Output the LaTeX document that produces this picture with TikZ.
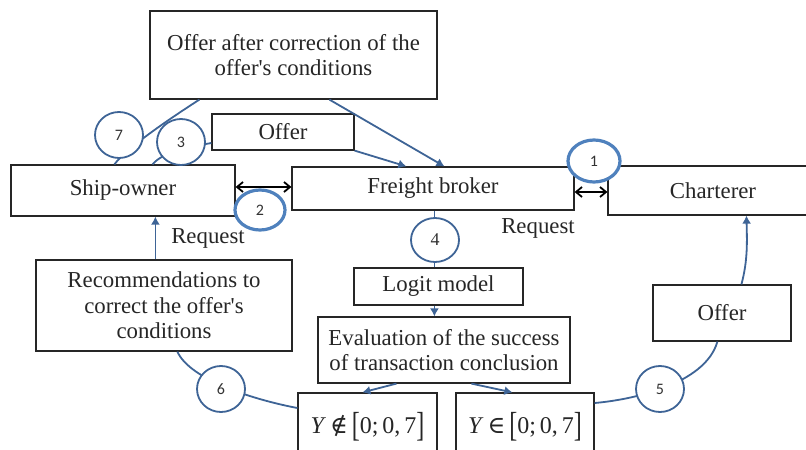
\documentclass[tikz,border=0pt]{standalone}
\usepackage{fontspec}
\setmainfont{Liberation Serif}[Ligatures=TeXOff]
\newfontfamily\numfont{Carlito}
\newfontfamily\symfont{DejaVu Serif}
\usetikzlibrary{arrows.meta,shapes.geometric,calc}
\definecolor{lnblue}{RGB}{62,100,150}
\definecolor{ltblue}{RGB}{79,129,189}
\newcommand{\bigbr}[1]{\raisebox{-1.5pt}{\scalebox{1}[1.45]{#1}}}
\begin{document}
\begin{tikzpicture}[x=0.5pt,y=-0.5pt,
 box/.style={draw=black!85, line width=0.6pt, fill=white, align=center, inner sep=1pt,
   font=\fontsize{11.4}{12.8}\selectfont, text=black!85},
 ring/.style={ellipse, draw=lnblue, line width=0.9pt, fill=white, inner sep=0pt,
   font=\numfont\fontsize{8}{9}\selectfont, text=black!80},
 ringb/.style={ring, draw=ltblue, line width=1.6pt},
 conn/.style={draw=lnblue, line width=0.9pt},
 arr/.style={conn, -{Latex[length=4pt,width=4.5pt]}},
 dbl/.style={draw=black, line width=0.9pt, {Straight Barb[length=3pt,width=5pt]}-{Straight Barb[length=3pt,width=5pt]}},
 lbl/.style={font=\fontsize{11.4}{12.8}\selectfont, text=black!85, inner sep=0pt}]
\useasboundingbox (0,0) rectangle (806,449);
\clip (0,0) rectangle (806,449);
% boxes
\node[box, minimum width=143.5pt, minimum height=44pt] (top) at (293.5,55) {Offer after correction of the\\offer's conditions};
\node[box, minimum width=71pt, minimum height=18pt] (offerT) at (283,132) {Offer};
\node[box, minimum width=112pt, minimum height=25.5pt] (ship) at (123,190.5) {Ship-owner};
\node[box, minimum width=141pt, minimum height=21.5pt] (broker) at (433,188.5) {Freight broker};
\node[box, minimum width=105pt, minimum height=24.5pt] (charter) at (713,190.5) {Charterer};
\node[box, minimum width=84.5pt, minimum height=18.5pt] (logit) at (438.5,286.5) {Logit model};
\node[box, minimum width=126pt, minimum height=33pt] (eval) at (444,350) {Evaluation of the success\\of transaction conclusion};
\node[box, minimum width=69.5pt, minimum height=33.5pt, font=\fontsize{12}{13}\selectfont] (ynot) at (367.5,426.5) {\raisebox{3.25pt}{\textit{Y}\,{\symfont ∉}\,\bigbr{[}0;\,0,\,7\bigbr{]}}};
\node[box, minimum width=69pt, minimum height=33.5pt, font=\fontsize{12}{13}\selectfont] (yin) at (525,426.5) {\raisebox{3.25pt}{\textit{Y}\,{\symfont ∈}\,\bigbr{[}0;\,0,\,7\bigbr{]}}};
\node[box, minimum width=128pt, minimum height=45.5pt] (rec) at (164,305.5) {Recommendations to\\correct the offer's\\conditions};
\node[box, minimum width=69pt, minimum height=28pt] (offerR) at (722,313) {Offer};
% labels
\node[lbl] (req1) at (208,238) {Request};
\node[lbl] (req2) at (538,228) {Request};
% black double arrows
\draw[dbl] ([yshift=1.75pt]ship.east) -- ([yshift=1.75pt]ship.east -| broker.west);
\draw[dbl] ([yshift=-1.75pt]broker.east) -- ([yshift=-1.75pt]broker.east -| charter.west);
% blue connectors
\draw[conn] ([xshift=52pt]ship.north west) .. controls (125,150) and (160,125) .. ([xshift=25pt]top.south west);
\draw[arr] ([xshift=90pt]top.south west) -- ([xshift=76.5pt]broker.north west);
\draw[conn] ([xshift=71pt]ship.north west) .. controls (165,150) and (195,146) .. ([yshift=-5.5pt]offerT.west);
\draw[arr] (offerT.south east) -- ([xshift=57.5pt]broker.north west);
\draw[conn] ([xshift=71.5pt]broker.south west) -- ([xshift=40.5pt]logit.north west);
\draw[arr] ([xshift=40.5pt]logit.south west) -- ([xshift=58.5pt]eval.north west);
\draw[arr] ([xshift=39.5pt]eval.south west) -- ([xshift=32.5pt]ynot.north west);
\draw[arr] ([xshift=77pt]eval.south west) -- ([xshift=28.5pt]yin.north west);
\draw[conn] ([yshift=9.25pt]ynot.west) .. controls (255,400) and (190,380) .. ([xshift=71pt]rec.south west);
\draw[conn] ([yshift=11.75pt]yin.east) .. controls (630,400) and (705,385) .. ([xshift=32.5pt]offerR.south west);
\draw[arr] ([xshift=44.5pt]offerR.north west) .. controls (748,260) and (747,240) .. ([xshift=69.5pt]charter.south west);
\draw[arr] ([xshift=60pt]rec.north west) -- ([xshift=72.5pt]ship.south west);
% numbered circles
\node[ringb, minimum width=26pt, minimum height=21pt] (c1) at (594,161) {1};
\node[ringb, minimum width=25pt, minimum height=20pt] (c2) at (260,210) {2};
\node[ring, minimum width=24pt, minimum height=23pt] (c3) at (181,142) {3};
\node[ring, minimum width=24pt, minimum height=23pt] (c7) at (119,135) {7};
\node[ring, minimum width=24pt, minimum height=22pt, font=\fontsize{9}{10}\selectfont] (c4) at (435,240) {4};
\node[ring, minimum width=24pt, minimum height=23pt] (c5) at (660,389) {5};
\node[ring, minimum width=24pt, minimum height=23pt] (c6) at (221,389) {6};
\end{tikzpicture}
\end{document}
